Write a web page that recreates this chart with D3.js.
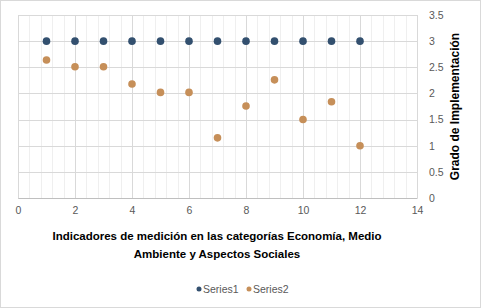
<!DOCTYPE html>
<html>
<head>
<meta charset="utf-8">
<script src="https://cdn.jsdelivr.net/npm/d3@7"></script>
<style>
  body { margin: 0; background: #fff; }
  text { font-family: "Liberation Sans", Arial, sans-serif; }
</style>
</head>
<body>
<svg id="chart" width="481" height="308"></svg>
<script>
// indicator number (x) for each point
let indicators = [1, 2, 3, 4, 5, 6, 7, 8, 9, 10, 11, 12]
let series1 = [3, 3, 3, 3, 3, 3, 3, 3, 3, 3, 3, 3]
let series2 = [2.64, 2.51, 2.51, 2.18, 2.02, 2.02, 1.15, 1.76, 2.26, 1.5, 1.84, 1.0]
let seriesNames = ['Series1', 'Series2']
let seriesColors = ['#33506f', '#c68f59']
let xTicks = [0, 2, 4, 6, 8, 10, 12, 14]
let yTicks = [0, 0.5, 1, 1.5, 2, 2.5, 3, 3.5]

let svg = d3.select('#chart')
let width = 481, height = 308

// outer frame
svg.append('rect')
  .attr('x', 0.5).attr('y', 0.5)
  .attr('width', width - 1).attr('height', height - 1)
  .attr('fill', 'white').attr('stroke', '#d9d9d9')

let x = d3.scaleLinear().domain([0, 14]).range([18, 417])
let y = d3.scaleLinear().domain([0, 3.5]).range([198, 15])

// minor vertical gridlines
let minor = d3.range(0, 14.001, 0.4).filter(v => Math.abs(v / 2 - Math.round(v / 2)) > 0.01)
svg.append('g').selectAll('line').data(minor).enter().append('line')
  .attr('x1', d => Math.round(x(d)) + 0.5).attr('x2', d => Math.round(x(d)) + 0.5)
  .attr('y1', y(3.5)).attr('y2', y(0))
  .attr('stroke', '#efefef')

// major gridlines
svg.append('g').selectAll('line').data(xTicks).enter().append('line')
  .attr('x1', d => Math.round(x(d)) + 0.5).attr('x2', d => Math.round(x(d)) + 0.5)
  .attr('y1', y(3.5)).attr('y2', y(0))
  .attr('stroke', '#d9d9d9')
svg.append('g').selectAll('line').data(yTicks).enter().append('line')
  .attr('x1', x(0)).attr('x2', x(14))
  .attr('y1', d => Math.round(y(d)) + 0.5).attr('y2', d => Math.round(y(d)) + 0.5)
  .attr('stroke', '#d9d9d9')

// x axis labels
let xAxis = svg.append('g')
  .attr('transform', 'translate(0,' + y(0) + ')')
  .call(d3.axisBottom(x).tickValues(xTicks).tickSize(0).tickPadding(9))
xAxis.select('.domain').attr('stroke', '#bfbfbf')
xAxis.selectAll('text').attr('fill', '#595959').style('font-size', '10.5px')
  .style('font-family', '"Liberation Sans", Arial, sans-serif')

// y axis labels (right side, left aligned)
let yAxis = svg.append('g')
  .attr('transform', 'translate(' + x(14) + ',0)')
  .call(d3.axisRight(y).tickValues(yTicks).tickSize(0).tickPadding(12).tickFormat(d3.format('')))
yAxis.select('.domain').remove()
yAxis.selectAll('text').attr('fill', '#595959').style('font-size', '10.5px')
  .style('font-family', '"Liberation Sans", Arial, sans-serif')

// points
let series = [series1, series2]
series.forEach((vals, i) => {
  svg.append('g').selectAll('circle').data(indicators).enter().append('circle')
    .attr('cx', (d) => x(d))
    .attr('cy', (d, j) => y(vals[j]))
    .attr('r', 3.8)
    .attr('fill', seriesColors[i])
})

// axis titles
let xTitle = svg.append('text')
  .attr('text-anchor', 'middle')
  .attr('font-weight', 'bold')
  .attr('fill', '#000')
  .style('font-size', '11.5px')
xTitle.append('tspan').attr('x', 217).attr('y', 240)
  .text('Indicadores de medición en las categorías Economía, Medio')
xTitle.append('tspan').attr('x', 217).attr('y', 258)
  .text('Ambiente y Aspectos Sociales')

svg.append('text')
  .attr('transform', 'translate(459,' + (y(0) + y(3.5)) / 2 + ') rotate(-90)')
  .attr('text-anchor', 'middle')
  .attr('font-weight', 'bold')
  .attr('fill', '#000')
  .style('font-size', '12px')
  .text('Grado de Implementación')

// legend
let legendX = [199, 249]
seriesNames.forEach((name, i) => {
  svg.append('circle')
    .attr('cx', legendX[i]).attr('cy', 289).attr('r', 2.5)
    .attr('fill', seriesColors[i])
  svg.append('text')
    .attr('x', legendX[i] + 4).attr('y', 293)
    .attr('fill', '#595959')
    .style('font-size', '10.5px')
    .text(name)
})
</script>
</body>
</html>
